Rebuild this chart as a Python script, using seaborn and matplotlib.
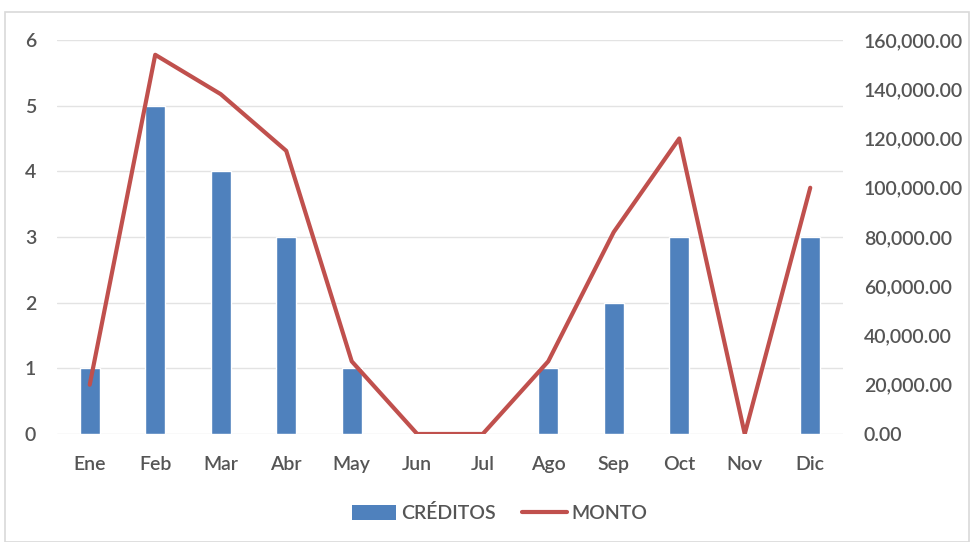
import matplotlib
matplotlib.use("Agg")
import matplotlib.pyplot as plt
import seaborn as sns
import pandas as pd
from matplotlib.patches import Patch, Rectangle
from matplotlib.lines import Line2D
from matplotlib.ticker import FuncFormatter

months = ["Ene", "Feb", "Mar", "Abr", "May", "Jun", "Jul", "Ago", "Sep", "Oct", "Nov", "Dic"]
creditos = [1, 5, 4, 3, 1, 0, 0, 1, 2, 3, 0, 3]
monto = [20000, 154000, 138000, 115000, 29500, 0, 0, 29500, 82000, 120000, 0, 100000]

df = pd.DataFrame({"mes": months, "creditos": creditos, "monto": monto})

sns.set_theme(style="white")
plt.rcParams["font.family"] = ["Lato", "DejaVu Sans"]
plt.rcParams["font.weight"] = "semibold"

bar_color = "#4F81BD"
line_color = "#C0504D"
text_color = "#555555"
fs = 14

fig = plt.figure(figsize=(9.74, 5.42), dpi=100)
ax = fig.add_axes([0.0585, 0.1993, 0.807, 0.7269])

sns.barplot(data=df, x="mes", y="creditos", color=bar_color, width=0.31,
            saturation=1, ax=ax, zorder=2)
ax.set_ylim(0, 6)
ax.set_yticks(range(0, 7))
ax.grid(axis="y", color="#E3E3E3", linewidth=1, zorder=0)
ax.set_axisbelow(True)
ax.set_xlabel("")
ax.set_ylabel("")
for s in ax.spines.values():
    s.set_visible(False)
ax.tick_params(axis="both", length=0, labelsize=fs, colors=text_color)
ax.tick_params(axis="x", pad=16)
ax.tick_params(axis="y", pad=15)
ax.set_xlim(-0.5, 11.5)

ax2 = ax.twinx()
sns.lineplot(data=df, x="mes", y="monto", color=line_color, linewidth=3,
             sort=False, ax=ax2, zorder=3)
ax2.set_ylim(0, 160000)
ax2.set_yticks(range(0, 160001, 20000))
ax2.yaxis.set_major_formatter(FuncFormatter(lambda v, p: f"{v:,.2f}"))
ax2.set_ylabel("")
ax2.set_xlabel("")
for s in ax2.spines.values():
    s.set_visible(False)
ax2.tick_params(axis="both", length=0, labelsize=fs, colors=text_color)
ax2.tick_params(axis="y", pad=15)
ax2.set_xlim(-0.5, 11.5)

handles = [Patch(facecolor=bar_color, edgecolor="none"),
           Line2D([0], [0], color=line_color, linewidth=3)]
fig.legend(handles, ["CRÉDITOS", "MONTO"], loc="center", bbox_to_anchor=(0.513, 0.053),
           ncol=2, frameon=False, fontsize=fs, labelcolor=text_color,
           handlelength=2.3, handleheight=0.8, columnspacing=1.35, handletextpad=0.25)

fig.patches.append(Rectangle((0.005, 0.0), 0.99, 0.978, transform=fig.transFigure,
                             fill=False, edgecolor="#D9D9D9", linewidth=1.2))

fig.savefig("out.png", dpi=100)
